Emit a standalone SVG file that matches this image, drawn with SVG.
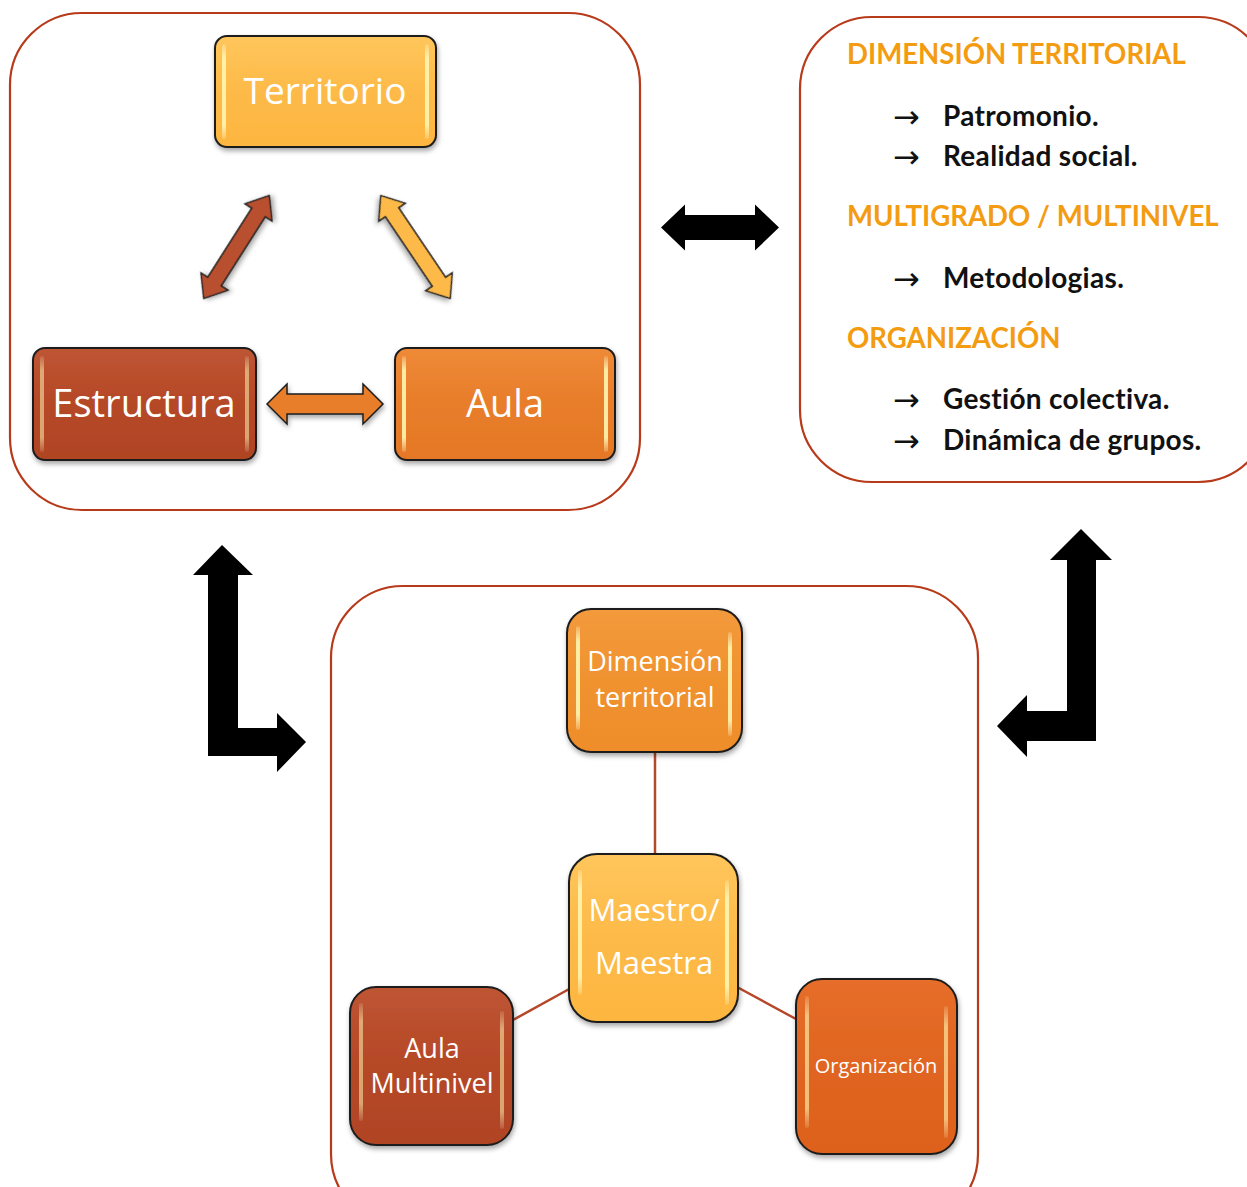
<svg xmlns="http://www.w3.org/2000/svg" width="1247" height="1187" viewBox="0 0 1247 1187">
<defs>
  <linearGradient id="gYel" x1="0" y1="0" x2="0" y2="1"><stop offset="0" stop-color="#FFC65C"/><stop offset="0.5" stop-color="#FDBA48"/><stop offset="1" stop-color="#FDB640"/></linearGradient>
  <linearGradient id="gRed" x1="0" y1="0" x2="0" y2="1"><stop offset="0" stop-color="#BE5533"/><stop offset="0.5" stop-color="#B54827"/><stop offset="1" stop-color="#B04424"/></linearGradient>
  <linearGradient id="gOra" x1="0" y1="0" x2="0" y2="1"><stop offset="0" stop-color="#EE8A38"/><stop offset="0.5" stop-color="#E87D2A"/><stop offset="1" stop-color="#E57826"/></linearGradient>
  <linearGradient id="gOra2" x1="0" y1="0" x2="0" y2="1"><stop offset="0" stop-color="#F39A3C"/><stop offset="0.5" stop-color="#F0922F"/><stop offset="1" stop-color="#EE8D2B"/></linearGradient>
  <linearGradient id="gOra3" x1="0" y1="0" x2="0" y2="1"><stop offset="0" stop-color="#E66E2A"/><stop offset="0.5" stop-color="#E06520"/><stop offset="1" stop-color="#DD611D"/></linearGradient>
  <linearGradient id="gHi" x1="0" y1="0" x2="0" y2="1"><stop offset="0" stop-color="#FFFBD0" stop-opacity="0.2"/><stop offset="0.15" stop-color="#FFF6B0" stop-opacity="0.9"/><stop offset="0.85" stop-color="#FFF6B0" stop-opacity="0.9"/><stop offset="1" stop-color="#FFFBD0" stop-opacity="0.2"/></linearGradient>
  <filter id="sh" x="-10%" y="-10%" width="125%" height="130%"><feDropShadow dx="1" dy="3" stdDeviation="2.5" flood-color="#000" flood-opacity="0.35"/></filter>
</defs>
<style>
  .cont{fill:#fff;stroke:#B73A1A;stroke-width:2.2}
  .node{stroke:#1e1e1e;stroke-width:2;filter:url(#sh)}
  .hi{fill:url(#gHi)}
  .nt{font-family:"Open Sans","Noto Sans",sans-serif;fill:#fff;text-anchor:middle}
  .hd{font-family:Lato,"Open Sans",sans-serif;font-weight:bold;fill:#F39C12;font-size:27.6px}
  .it{font-family:Lato,"Open Sans",sans-serif;font-weight:bold;fill:#111;font-size:28px;letter-spacing:0.3px}
  .ar{font-family:"DejaVu Sans",sans-serif;fill:#111;font-size:32px}
  .conn{stroke:#B5472A;stroke-width:2.5;fill:none}
  .darr{stroke:#1e1e1e;stroke-width:1.5;filter:url(#sh)}
</style>

<g id="containers">
  <rect id="box-top-left" class="cont" x="10" y="13" width="630" height="497" rx="72"/>
  <rect id="box-top-right" class="cont" x="800" y="17" width="470" height="465" rx="72"/>
  <rect id="box-bottom" class="cont" x="331" y="586" width="647" height="640" rx="72"/>
</g>

<g id="connectors">
  <path class="darr" fill="#B8502E" transform="translate(236.5,247) rotate(-57.5)" d="M-61 0 L-41 -16 L-41 -8 L41 -8 L41 -16 L61 0 L41 16 L41 8 L-41 8 L-41 16 Z"/>
  <path class="darr" fill="#FDBA48" transform="translate(415.5,247) rotate(56)" d="M-62 0 L-42 -16 L-42 -8 L42 -8 L42 -16 L62 0 L42 16 L42 8 L-42 8 L-42 16 Z"/>
  <path class="darr" fill="#E87D2A" transform="translate(325,404)" d="M-58 0 L-38 -20 L-38 -10 L38 -10 L38 -20 L58 0 L38 20 L38 10 L-38 10 L-38 20 Z"/>
  <path fill="#000" transform="translate(720,227.5)" d="M-59 0 L-35 -23 L-35 -12.5 L35 -12.5 L35 -23 L59 0 L35 23 L35 12.5 L-35 12.5 L-35 23 Z"/>
  <path fill="#000" d="M222 545 L253 575 L238 575 L238 728 L277 728 L277 713 L306 742 L277 772 L277 756 L208 756 L208 575 L193 575 Z"/>
  <path fill="#000" d="M1081 529 L1112 560 L1096 560 L1096 741 L1027 741 L1027 757 L997 726 L1027 695 L1027 711 L1067 711 L1067 560 L1050 560 Z"/>
  <line class="conn" x1="655" y1="752" x2="655" y2="854"/>
  <line class="conn" x1="571" y1="988" x2="513" y2="1020"/>
  <line class="conn" x1="737" y1="987" x2="796" y2="1019"/>
</g>

<g id="node-territorio">
  <rect class="node" x="215" y="36" width="221" height="111" rx="12" fill="url(#gYel)"/>
  <rect class="hi" x="222" y="44" width="4" height="95" rx="2"/>
  <rect class="hi" x="425" y="44" width="4" height="95" rx="2"/>
  <text class="nt" x="325" y="104" font-size="37">Territorio</text>
</g>
<g id="node-estructura">
  <rect class="node" x="33" y="348" width="223" height="112" rx="12" fill="url(#gRed)"/>
  <rect class="hi" x="40" y="356" width="4" height="96" rx="2" opacity="0.6"/>
  <rect class="hi" x="245" y="356" width="4" height="96" rx="2" opacity="0.6"/>
  <text class="nt" x="144" y="417" font-size="38">Estructura</text>
</g>
<g id="node-aula">
  <rect class="node" x="395" y="348" width="220" height="112" rx="12" fill="url(#gOra)"/>
  <rect class="hi" x="402" y="356" width="4" height="96" rx="2"/>
  <rect class="hi" x="604" y="356" width="4" height="96" rx="2"/>
  <text class="nt" x="505" y="417" font-size="38">Aula</text>
</g>

<g id="node-info">
  <text class="hd" x="847" y="64">DIMENSIÓN TERRITORIAL</text>
  <text class="ar" x="893" y="128">→</text><text class="it" x="943" y="126">Patromonio.</text>
  <text class="ar" x="893" y="168">→</text><text class="it" x="943" y="166">Realidad social.</text>
  <text class="hd" x="847" y="226">MULTIGRADO / MULTINIVEL</text>
  <text class="ar" x="893" y="290">→</text><text class="it" x="943" y="288">Metodologias.</text>
  <text class="hd" x="847" y="348">ORGANIZACIÓN</text>
  <text class="ar" x="893" y="411">→</text><text class="it" x="943" y="409">Gestión colectiva.</text>
  <text class="ar" x="893" y="452">→</text><text class="it" x="943" y="450">Dinámica de grupos.</text>
</g>

<g id="node-dimension">
  <rect class="node" x="567" y="609" width="175" height="143" rx="24" fill="url(#gOra2)"/>
  <rect class="hi" x="576" y="626" width="4" height="104" rx="2"/>
  <rect class="hi" x="728" y="632" width="4" height="104" rx="2"/>
  <text class="nt" x="655" y="671" font-size="27">Dimensión</text>
  <text class="nt" x="655" y="707" font-size="27">territorial</text>
</g>
<g id="node-maestro">
  <rect class="node" x="569" y="854" width="169" height="168" rx="28" fill="url(#gYel)"/>
  <rect class="hi" x="578" y="870" width="4" height="125" rx="2"/>
  <rect class="hi" x="725" y="880" width="4" height="125" rx="2"/>
  <text class="nt" x="654" y="921" font-size="31">Maestro/</text>
  <text class="nt" x="654" y="974" font-size="31">Maestra</text>
</g>
<g id="node-aula-multinivel">
  <rect class="node" x="350" y="987" width="163" height="158" rx="26" fill="url(#gRed)"/>
  <rect class="hi" x="359" y="1003" width="4" height="118" rx="2" opacity="0.6"/>
  <rect class="hi" x="500" y="1011" width="4" height="118" rx="2" opacity="0.6"/>
  <text class="nt" x="432" y="1058" font-size="27">Aula</text>
  <text class="nt" x="432" y="1093" font-size="27">Multinivel</text>
</g>
<g id="node-organizacion">
  <rect class="node" x="796" y="979" width="161" height="175" rx="26" fill="url(#gOra3)"/>
  <rect class="hi" x="805" y="996" width="4" height="132" rx="2" opacity="0.7"/>
  <rect class="hi" x="944" y="1006" width="4" height="132" rx="2" opacity="0.7"/>
  <text class="nt" x="876" y="1073" font-size="20">Organización</text>
</g>
</svg>
